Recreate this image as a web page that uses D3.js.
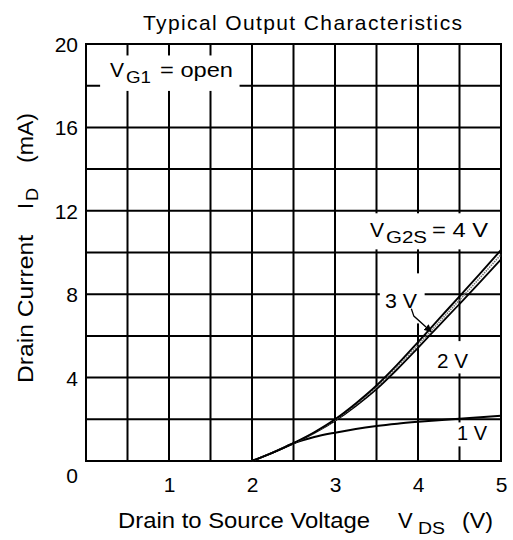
<!DOCTYPE html>
<html><head><meta charset="utf-8">
<script src="https://cdn.jsdelivr.net/npm/d3@7"></script>
<style>
html,body{margin:0;padding:0;background:#fff;}
svg{display:block;}
text{font-family:"Liberation Sans",Arial,sans-serif;fill:#000;}
</style>
</head><body>
<script>
// ---- data ----
const vds = [2.0, 2.25, 2.5, 2.75, 3.0, 3.25, 3.5, 3.75, 4.0, 4.25, 4.5, 4.75, 5.0];
const idG2s4 = [0, 0.40, 0.86, 1.38, 2.00, 2.76, 3.62, 4.62, 5.70, 6.80, 7.90, 9.00, 10.12];
const idG2s3 = [0, 0.40, 0.85, 1.36, 1.96, 2.70, 3.54, 4.51, 5.56, 6.64, 7.72, 8.80, 9.90];
const idG2s2 = [0, 0.40, 0.84, 1.34, 1.93, 2.64, 3.45, 4.40, 5.43, 6.48, 7.53, 8.59, 9.67];
const idG2s1 = [0, 0.40, 0.85, 1.15, 1.36, 1.54, 1.68, 1.79, 1.88, 1.96, 2.03, 2.10, 2.17];
const xTicks = [1, 2, 3, 4, 5];
const yTicks = [4, 8, 12, 16, 20];
const xGrid = [0.5, 1, 1.5, 2, 2.5, 3, 3.5, 4, 4.5];
const yGrid = [2, 4, 6, 8, 10, 12, 14, 16, 18];

// ---- layout ----
const W = 513, H = 540;
const x = d3.scaleLinear([0, 5], [86, 501]);
const y = d3.scaleLinear([0, 20], [461, 44]);
const svg = d3.select("body").append("svg").attr("width", W).attr("height", H);

// title
svg.append("text").attr("x", 143).attr("y", 30).attr("font-size", 21)
  .attr("textLength", 319).attr("lengthAdjust", "spacing").text("Typical Output Characteristics");

// grid
const grid = svg.append("g").attr("stroke", "#000").attr("stroke-width", 2);
grid.selectAll(".v").data(xGrid).join("line")
  .attr("x1", d => x(d)).attr("x2", d => x(d)).attr("y1", y(0)).attr("y2", y(20));
grid.selectAll(".h").data(yGrid).join("line")
  .attr("y1", d => y(d)).attr("y2", d => y(d)).attr("x1", x(0)).attr("x2", x(5));

// white label backgrounds (gaps in grid)
const boxes = [
  [0.17, 1.85, 19.45, 17.75],
  [3.34, 4.95, 11.88, 10.15],
  [3.54, 4.08, 9.0, 6.6],
  [4.15, 4.67, 5.75, 4.2],
  [4.47, 4.90, 1.85, 0.7]
];
svg.append("g").selectAll("rect").data(boxes).join("rect")
  .attr("x", d => x(d[0])).attr("width", d => x(d[1]) - x(d[0]))
  .attr("y", d => y(d[2])).attr("height", d => y(d[3]) - y(d[2]))
  .attr("fill", "#fff");

// border
svg.append("rect").attr("x", x(0)).attr("y", y(20))
  .attr("width", x(5) - x(0)).attr("height", y(0) - y(20))
  .attr("fill", "none").attr("stroke", "#000").attr("stroke-width", 2);

// curves
const line = d3.line().x(d => x(d[0])).y(d => y(d[1])).curve(d3.curveMonotoneX);
const series = [
  {v: idG2s1, w: 2, c: "#000", dash: null},
  {v: idG2s2, w: 1.8, c: "#000", dash: null},
  {v: idG2s3, w: 1.6, c: "#777", dash: "1.5,1"},
  {v: idG2s4, w: 1.9, c: "#000", dash: null}
];
svg.append("g").selectAll("path").data(series).join("path")
  .attr("d", s => line(vds.map((v, i) => [v, s.v[i]])))
  .attr("fill", "none").attr("stroke", s => s.c).attr("stroke-width", s => s.w)
  .attr("stroke-dasharray", s => s.dash);

// leader arrow for 3 V
svg.append("defs").append("marker").attr("id", "ah").attr("viewBox", "0 0 10 10")
  .attr("refX", 9).attr("refY", 5).attr("markerWidth", 6).attr("markerHeight", 6)
  .attr("orient", "auto").append("path").attr("d", "M0,0L10,5L0,10z").attr("fill", "#000");
const leader = [[3.92, 7.3], [3.95, 6.95], [4.16, 6.2]];
svg.append("path").attr("d", d3.line().x(d => x(d[0])).y(d => y(d[1]))(leader))
  .attr("fill", "none").attr("stroke", "#000").attr("stroke-width", 1.3)
  .attr("marker-end", "url(#ah)");

// axes labels
const ax = svg.append("g").attr("transform", `translate(0,${y(0)})`)
  .call(d3.axisBottom(x).tickValues(xTicks).tickSize(0).tickFormat(d3.format("d")));
ax.select(".domain").remove();
ax.selectAll("text").attr("y", 31).attr("dy", null).attr("font-size", 21)
  .attr("font-family", "Liberation Sans, Arial, sans-serif").attr("fill", "#000");
const ay = svg.append("g").attr("transform", `translate(${x(0)},0)`)
  .call(d3.axisLeft(y).tickValues(yTicks).tickSize(0).tickFormat(d3.format("d")));
ay.select(".domain").remove();
ay.selectAll("text").attr("x", -8).attr("dy", "0.36em").attr("font-size", 21)
  .attr("font-family", "Liberation Sans, Arial, sans-serif").attr("fill", "#000");
svg.append("text").attr("x", 78).attr("y", 483).attr("text-anchor", "end")
  .attr("font-size", 21).text("0");

// in-plot labels
function t(xp, yp, s, size, len) {
  const e = svg.append("text").attr("x", xp).attr("y", yp).attr("font-size", size).text(s);
  if (len) e.attr("textLength", len).attr("lengthAdjust", "spacingAndGlyphs");
  return e;
}
t(110, 77, "V", 21);
t(126, 83, "G1", 16, 25);
t(160, 77, "= open", 21, 73);

t(370, 237, "V", 21);
t(386, 243, "G2S", 16, 41);
t(432, 237, "= 4 V", 21, 56);

t(385, 308, "3 V", 21, 32);
t(437, 368, "2 V", 21, 31);
t(457, 440, "1 V", 21, 30);

// x axis title
t(118, 528, "Drain to Source Voltage", 22, 252);
t(398, 528, "V", 22);
t(418, 534, "DS", 16, 27);
t(462, 528, "(V)", 22, 31);

// y axis title
const yt = svg.append("g").attr("transform", "translate(33,0) rotate(-90)");
function ty(xp, dy, s, size, len) {
  const e = yt.append("text").attr("x", xp).attr("y", dy).attr("font-size", size).text(s);
  if (len) e.attr("textLength", len).attr("lengthAdjust", "spacingAndGlyphs");
}
ty(-383, 0, "Drain Current", 22, 148);
ty(-209, 0, "I", 22);
ty(-201, 5, "D", 16, 13);
ty(-163, 0, "(mA)", 22, 50);
</script>
</body></html>
